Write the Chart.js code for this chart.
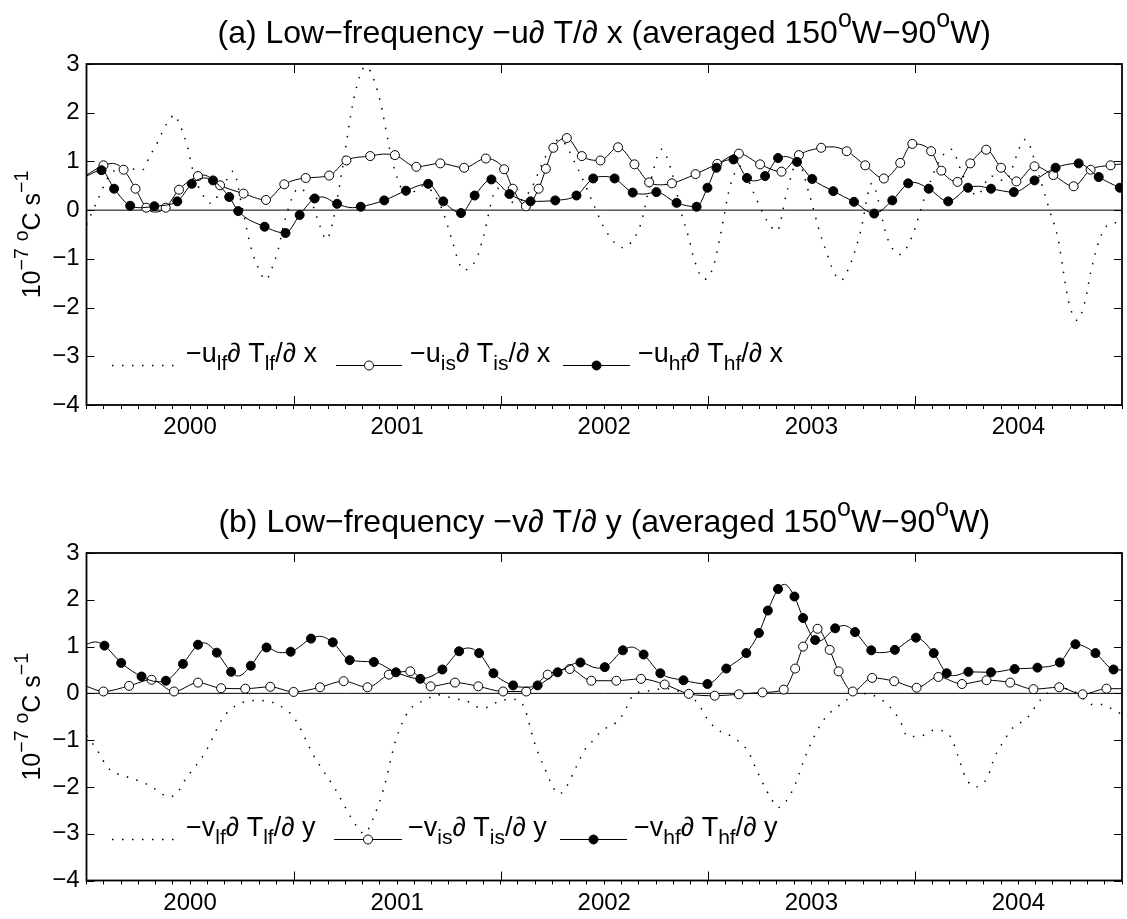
<!DOCTYPE html>
<html>
<head>
<meta charset="utf-8">
<script src="https://cdn.jsdelivr.net/npm/chart.js@4.4.0/dist/chart.umd.min.js"></script>
<style>
  html, body { margin: 0; padding: 0; background: #fff; }
  #wrap { position: relative; width: 1127px; height: 919px; }
  .panel { position: absolute; left: 0; width: 1127px; }
</style>
</head>
<body>
<div id="wrap">
  <div class="panel" style="top:0;height:460px"><canvas id="chartA" width="1127" height="460"></canvas></div>
  <div class="panel" style="top:460px;height:459px"><canvas id="chartB" width="1127" height="459"></canvas></div>
</div>
<script>
// x = months since July 1999, y = 1e-7 degC/s
const tickMonths = [6, 18, 30, 42, 54];
const tickLabels = ['2000', '2001', '2002', '2003', '2004'];
const majorMonths = [12, 24, 36, 48];
const yTicks = [-4, -3, -2, -1, 0, 1, 2, 3];

// ---- panel (a): -u dT/dx ----
const uLf = [[0,-0.3],[0.7,0.25],[1.4,0.75],[2.3,0.85],[3.25,0.83],[3.65,1.1],[4.2,1.45],[4.5,1.69],[4.85,1.86],[5.05,1.96],[5.4,1.76],[5.84,1.31],[6.25,0.7],[6.66,0.36],[7.2,0.14],[8.0,0.55],[8.5,0.8],[9.0,0.1],[9.46,-0.67],[9.83,-1.08],[10.4,-1.43],[10.7,-1.23],[11.1,-0.82],[11.5,-0.2],[12.3,0.45],[13.0,0.2],[13.5,-0.3],[13.9,-0.6],[14.3,-0.2],[14.8,0.8],[15.5,2.3],[16.17,2.95],[16.9,2.4],[17.8,0.9],[18.6,0.3],[19.5,0.5],[20.5,0.1],[21.2,-0.64],[21.55,-1.05],[21.85,-1.23],[22.6,-1.0],[22.96,-0.59],[23.8,0.45],[24.8,0.15],[25.7,0.4],[26.6,1.1],[27.4,1.45],[28.4,0.9],[29.4,0.1],[30.1,-0.43],[31.1,-0.77],[31.7,-0.59],[32.1,-0.3],[32.7,0.6],[33.3,1.25],[33.9,0.8],[34.5,-0.1],[34.9,-0.57],[35.2,-1.0],[35.8,-1.42],[36.3,-1.18],[36.7,-0.57],[37.3,0.5],[37.9,0.9],[38.6,0.4],[39.4,-0.2],[40.0,-0.43],[40.6,0.4],[41.2,1.0],[41.9,0.3],[42.5,-0.47],[42.9,-0.88],[43.3,-1.27],[43.7,-1.44],[44.3,-1.07],[44.85,-0.44],[45.5,0.55],[46.4,-0.57],[47.1,-0.91],[47.8,-0.57],[48.6,0.3],[49.4,1.0],[50.1,1.25],[50.8,0.7],[51.6,0.3],[52.4,0.7],[53.2,0.6],[54.4,1.45],[55.2,0.7],[55.8,0.0],[56.3,-0.6],[56.6,-1.25],[56.9,-1.87],[57.4,-2.26],[57.86,-1.87],[58.2,-1.25],[58.7,-0.6],[59.2,-0.3],[60,-0.25]];

const uIsMarks = [[0.98,0.92],[2.15,0.83],[2.84,0.44],[3.46,0.05],[4.59,0.05],[5.36,0.42],[6.46,0.70],[7.74,0.51],[9.10,0.34],[10.4,0.21],[11.46,0.53],[12.7,0.66],[14.06,0.71],[15.06,1.02],[16.44,1.11],[17.87,1.13],[19.11,0.89],[20.5,0.96],[21.88,0.87],[23.14,1.06],[24.2,0.84],[24.7,0.44],[25.46,0.08],[26.2,0.44],[26.62,0.85],[27.05,1.28],[27.83,1.48],[28.7,1.11],[29.78,1.02],[30.8,1.29],[31.75,0.94],[32.6,0.57],[33.92,0.55],[35.29,0.74],[36.55,0.95],[37.8,1.16],[39.03,0.94],[40.27,0.79],[41.28,1.13],[42.57,1.28],[44.05,1.21],[45.12,0.92],[46.2,0.65],[47.15,0.97],[47.85,1.36],[48.94,1.21],[49.53,0.81],[50.47,0.58],[51.21,0.96],[52.13,1.24],[52.99,0.87],[53.88,0.59],[54.93,0.90],[56.02,0.72],[57.2,0.49],[58.18,0.83],[59.34,0.92]];
const uIsCurve = [[0,0.72],[1.5,0.96],[4.0,-0.04],[6.8,0.72],[17.2,1.15],[33.25,0.52],[43.2,1.3],[60,0.95]];

const uHfMarks = [[0.87,0.82],[1.6,0.44],[2.53,0.09],[3.93,0.08],[5.26,0.18],[6.1,0.54],[7.33,0.61],[8.27,0.27],[8.79,-0.02],[10.32,-0.34],[11.53,-0.47],[12.35,-0.10],[13.22,0.24],[14.52,0.13],[15.89,0.07],[17.25,0.20],[18.51,0.40],[19.8,0.54],[20.67,0.18],[21.7,-0.06],[22.49,0.30],[23.46,0.63],[24.51,0.33],[25.73,0.18],[27.16,0.20],[28.39,0.30],[29.36,0.65],[30.6,0.65],[31.65,0.36],[33.02,0.37],[34.19,0.15],[35.35,0.07],[35.98,0.46],[36.5,0.87],[37.49,1.04],[38.27,0.66],[39.32,0.70],[40.07,1.07],[41.17,0.99],[42.05,0.64],[43.27,0.39],[44.47,0.17],[45.64,-0.07],[46.69,0.20],[47.61,0.55],[48.8,0.44],[49.93,0.18],[51.08,0.46],[52.41,0.44],[53.73,0.37],[54.93,0.61],[56.15,0.87],[57.49,0.96],[58.65,0.68],[59.87,0.46]];
const uHfCurve = [[0,0.7],[3.2,0.05],[6.8,0.66],[13.65,0.27],[15.4,0.05],[30.0,0.69],[32.3,0.33],[38.7,0.6],[40.5,1.1],[47.9,0.57],[51.7,0.49],[60,0.44]];

// ---- panel (b): -v dT/dy ----
const vLf = [[0,-0.9],[0.6,-1.2],[1.24,-1.59],[2.32,-1.78],[3.42,-1.93],[4.2,-2.1],[4.7,-2.21],[5.2,-2.15],[5.73,-1.84],[6.87,-1.27],[7.9,-0.53],[8.7,-0.25],[9.9,-0.15],[11.1,-0.24],[12.04,-0.53],[13.18,-1.34],[14.42,-2.05],[15.65,-2.84],[16.1,-3.0],[16.59,-2.69],[17.21,-2.05],[17.93,-0.99],[18.66,-0.38],[19.7,-0.13],[20.3,-0.03],[21.2,-0.1],[22.28,-0.2],[22.8,-0.31],[23.3,-0.29],[24.0,-0.15],[24.86,-0.13],[25.4,-0.33],[25.9,-0.99],[26.5,-1.56],[27.4,-2.15],[27.83,-1.98],[28.35,-1.59],[28.88,-1.2],[29.4,-0.99],[29.82,-0.81],[30.66,-0.63],[31.08,-0.45],[31.7,-0.03],[32.5,0.05],[33.5,0.1],[34.5,0.02],[35.4,-0.2],[36.0,-0.56],[36.5,-0.76],[37.5,-0.95],[38.33,-1.24],[38.85,-1.66],[39.38,-2.06],[39.7,-2.27],[40.07,-2.44],[40.54,-2.3],[41.06,-1.95],[41.69,-1.31],[42.22,-0.88],[42.85,-0.5],[43.37,-0.33],[44.2,-0.1],[44.6,0.0],[45.47,-0.03],[46.42,-0.24],[47.16,-0.6],[47.57,-0.92],[48.1,-0.92],[48.63,-0.88],[49.15,-0.78],[49.67,-0.81],[50.1,-0.95],[50.5,-1.34],[50.94,-1.8],[51.5,-2.0],[52.2,-1.8],[52.6,-1.38],[53.2,-0.99],[53.66,-0.74],[54.5,-0.53],[55.14,-0.2],[55.66,0.0],[56.5,0.1],[57.2,0.05],[57.7,-0.1],[58.3,-0.24],[58.9,-0.24],[59.45,-0.34],[60,-0.45]];

const vIsMarks = [[0.98,0.04],[2.47,0.16],[3.77,0.29],[5.07,0.04],[6.46,0.23],[7.8,0.11],[9.2,0.1],[10.65,0.14],[12.0,0.03],[13.53,0.13],[14.9,0.26],[16.28,0.13],[17.52,0.40],[18.76,0.47],[19.94,0.15],[21.35,0.23],[22.7,0.15],[24.14,0.04],[25.48,0.04],[26.72,0.40],[28.0,0.52],[29.25,0.27],[30.7,0.27],[32.13,0.31],[33.5,0.19],[34.9,-0.01],[36.4,-0.05],[37.8,-0.02],[39.17,0.02],[40.4,0.08],[41.06,0.53],[41.52,1.0],[42.36,1.38],[43.06,0.93],[43.58,0.47],[44.4,0.04],[45.52,0.33],[46.8,0.26],[48.1,0.12],[49.36,0.35],[50.73,0.20],[52.15,0.28],[53.52,0.23],[54.87,0.09],[56.36,0.13],[57.72,-0.02],[59.1,0.1]];
const vIsCurve = [[0,0.15],[60,0.1]];

const vHfMarks = [[1.04,1.02],[2.01,0.65],[3.19,0.36],[4.6,0.27],[5.59,0.63],[6.46,1.04],[7.55,0.87],[8.38,0.46],[9.52,0.59],[10.43,0.98],[11.83,0.89],[13.01,1.17],[14.27,1.09],[15.25,0.71],[16.65,0.67],[17.93,0.45],[19.34,0.31],[20.62,0.51],[21.59,0.90],[22.75,0.86],[23.58,0.43],[24.72,0.17],[26.14,0.17],[27.3,0.45],[28.62,0.66],[30.03,0.56],[31.08,0.92],[32.28,0.83],[33.25,0.43],[34.59,0.28],[35.98,0.20],[37.07,0.53],[38.23,0.86],[38.96,1.29],[39.48,1.77],[40.07,2.23],[41.02,2.07],[41.52,1.61],[42.22,1.14],[43.38,1.39],[44.53,1.31],[45.47,0.92],[46.84,0.93],[48.06,1.19],[49.09,0.86],[49.84,0.43],[51.1,0.46],[52.41,0.45],[53.78,0.52],[55.1,0.55],[56.4,0.66],[57.3,1.05],[58.46,0.86],[59.51,0.51]];
const vHfCurve = [[0,1.05],[0.5,1.1],[4.1,0.25],[6.8,1.08],[8.8,0.37],[11.2,0.87],[13.5,1.22],[22.1,0.97],[25.4,0.13],[29.6,0.54],[31.6,0.99],[40.44,2.33],[42.45,1.12],[43.9,1.45],[46.1,0.87],[50.3,0.38],[60,0.5]];

const titleA = '(a) Low\u2212frequency \u2212u\u2202 T/\u2202 x (averaged 150^{o}W\u221290^{o}W)';
const titleB = '(b) Low\u2212frequency \u2212v\u2202 T/\u2202 y (averaged 150^{o}W\u221290^{o}W)';
const yTitle = '10^{\u22127} ^{o}C s^{\u22121}';
const legendA = ['\u2212u_{lf}\u2202 T_{lf}/\u2202 x', '\u2212u_{is}\u2202 T_{is}/\u2202 x', '\u2212u_{hf}\u2202 T_{hf}/\u2202 x'];
const legendB = ['\u2212v_{lf}\u2202 T_{lf}/\u2202 y', '\u2212v_{is}\u2202 T_{is}/\u2202 y', '\u2212v_{hf}\u2202 T_{hf}/\u2202 y'];

const FONT = '"Liberation Sans", Arial, Helvetica, sans-serif';
const TICK_SIZE = 24;
const TITLE_SIZE = 32;
const LEGEND_SIZE = 27;
const YLABEL_SIZE = 25;
const DASH = [1.5, 8.5];

// merge marker points and extra curve points into one sorted line
function series(marks, curve) {
  return marks.map(p => ({ x: p[0], y: p[1], mk: true }))
    .concat(curve.map(p => ({ x: p[0], y: p[1], mk: false })))
    .sort((a, b) => a.x - b.x);
}

// tiny markup: _{sub} ^{sup}
function parseRich(s) {
  const out = [];
  const re = /([_^])\{([^}]*)\}|([^_^]+)/g;
  let m;
  while ((m = re.exec(s))) {
    if (m[3]) out.push({ t: m[3], k: 0 });
    else out.push({ t: m[2], k: m[1] === '_' ? -1 : 1 });
  }
  return out;
}
function drawRich(ctx, s, x, y, size, align) {
  const parts = parseRich(s);
  const fnt = p => (p.k ? size * 0.78 : size) + 'px ' + FONT;
  let w = 0;
  parts.forEach(p => { ctx.font = fnt(p); w += ctx.measureText(p.t).width; });
  if (align === 'center') x -= w / 2;
  ctx.textAlign = 'left';
  ctx.textBaseline = 'alphabetic';
  parts.forEach(p => {
    ctx.font = fnt(p);
    const dy = p.k < 0 ? size * 0.32 : p.k > 0 ? -size * 0.5 : 0;
    ctx.fillText(p.t, x, y + dy);
    x += ctx.measureText(p.t).width;
  });
  return w;
}

function line(ctx, x1, y1, x2, y2) {
  ctx.beginPath(); ctx.moveTo(x1, y1); ctx.lineTo(x2, y2); ctx.stroke();
}

// box, inside ticks, titles and legend
const decor = {
  id: 'decor',
  afterDatasetsDraw(chart, args, opts) {
    const { ctx, chartArea: a, scales: { x, y } } = chart;
    ctx.save();
    ctx.strokeStyle = '#000';
    ctx.fillStyle = '#000';
    ctx.lineWidth = 1;
    yTicks.forEach(v => {
      const py = Math.round(y.getPixelForValue(v)) + 0.5;
      line(ctx, a.left, py, a.left + 8, py);
      line(ctx, a.right, py, a.right - 8, py);
    });
    majorMonths.forEach(v => {
      const px = Math.round(x.getPixelForValue(v)) + 0.5;
      line(ctx, px, a.bottom, px, a.bottom - 9);
      line(ctx, px, a.top, px, a.top + 9);
    });
    ctx.lineWidth = 1.8;
    ctx.strokeRect(a.left, a.top, a.right - a.left, a.bottom - a.top);

    // title
    drawRich(ctx, opts.title, (a.left + a.right) / 2, a.top - 21, TITLE_SIZE, 'center');

    // rotated y title
    ctx.save();
    ctx.translate(40, (a.top + a.bottom) / 2);
    ctx.rotate(-Math.PI / 2);
    drawRich(ctx, yTitle, 0, 0, YLABEL_SIZE, 'center');
    ctx.restore();

    // legend
    const ly = Math.round(y.getPixelForValue(opts.legendY)) + 0.5;
    const L = opts.legendX;
    ctx.lineWidth = 1.5;
    ctx.setLineDash(DASH);
    line(ctx, L[0][0], ly, L[0][1], ly);
    ctx.setLineDash([]);
    ctx.lineWidth = 1;
    [1, 2].forEach(i => {
      line(ctx, L[i][0], ly, L[i][1], ly);
      ctx.beginPath();
      ctx.arc((L[i][0] + L[i][1]) / 2, ly, 4.5, 0, Math.PI * 2);
      ctx.fillStyle = i === 1 ? '#fff' : '#000';
      ctx.fill();
      ctx.stroke();
    });
    ctx.fillStyle = '#000';
    opts.legend.forEach((s, i) => drawRich(ctx, s, L[i][2], ly - 4, LEGEND_SIZE, 'left'));
    ctx.restore();
  }
};

function makeChart(id, padTop, axisH, lf, isM, isC, hfM, hfC, decorOpts) {
  const mkRadius = c => (c.raw && c.raw.mk ? 4.5 : 0);
  return new Chart(document.getElementById(id), {
    type: 'line',
    data: {
      datasets: [
        { data: series(hfM, hfC), borderColor: '#000', borderWidth: 1, pointRadius: mkRadius,
          pointBackgroundColor: '#000', pointBorderColor: '#000', pointBorderWidth: 1, cubicInterpolationMode: 'monotone' },
        { data: series(isM, isC), borderColor: '#000', borderWidth: 1, pointRadius: mkRadius,
          pointBackgroundColor: '#fff', pointBorderColor: '#000', pointBorderWidth: 1, cubicInterpolationMode: 'monotone' },
        { data: lf.map(p => ({ x: p[0], y: p[1] })), borderColor: '#000', borderWidth: 1.5, borderDash: DASH,
          pointRadius: 0, cubicInterpolationMode: 'monotone' },
        { data: [{ x: 0, y: 0 }, { x: 60, y: 0 }], borderColor: '#000', borderWidth: 1, pointRadius: 0 }
      ]
    },
    options: {
      responsive: false,
      animation: false,
      events: [],
      layout: { padding: { left: 0, right: 5, top: padTop, bottom: 0 } },
      plugins: { legend: { display: false }, tooltip: { enabled: false }, decor: decorOpts },
      scales: {
        x: {
          type: 'linear', min: 0, max: 60,
          afterFit: s => { s.height = axisH; },
          ticks: {
            stepSize: 1, autoSkip: false, maxRotation: 0, minRotation: 0, padding: 4, color: '#000',
            font: { family: FONT, size: TICK_SIZE },
            callback: v => { const i = tickMonths.indexOf(v); return i < 0 ? '' : tickLabels[i]; }
          },
          grid: { drawOnChartArea: false, drawTicks: true, tickLength: 4, color: '#000', lineWidth: 1 },
          border: { display: false }
        },
        y: {
          min: -4, max: 3,
          afterFit: s => { s.width = 86.5; },
          ticks: { stepSize: 1, padding: 7, color: '#000', font: { family: FONT, size: TICK_SIZE },
            callback: v => String(v).replace('-', '\u2212') },
          grid: { display: false, drawTicks: false },
          border: { display: false }
        }
      }
    },
    plugins: [decor]
  });
}

makeChart('chartA', 64, 55, uLf, uIsMarks, uIsCurve, uHfMarks, uHfCurve,
  { title: titleA, legend: legendA, legendY: -3.17, legendX: [[112, 176, 186], [336, 402, 410], [563, 630, 638]] });
makeChart('chartB', 93, 38.5, vLf, vIsMarks, vIsCurve, vHfMarks, vHfCurve,
  { title: titleB, legend: legendB, legendY: -3.12, legendX: [[112, 176, 186], [334, 402, 408], [560, 627, 634]] });
</script>
</body>
</html>
